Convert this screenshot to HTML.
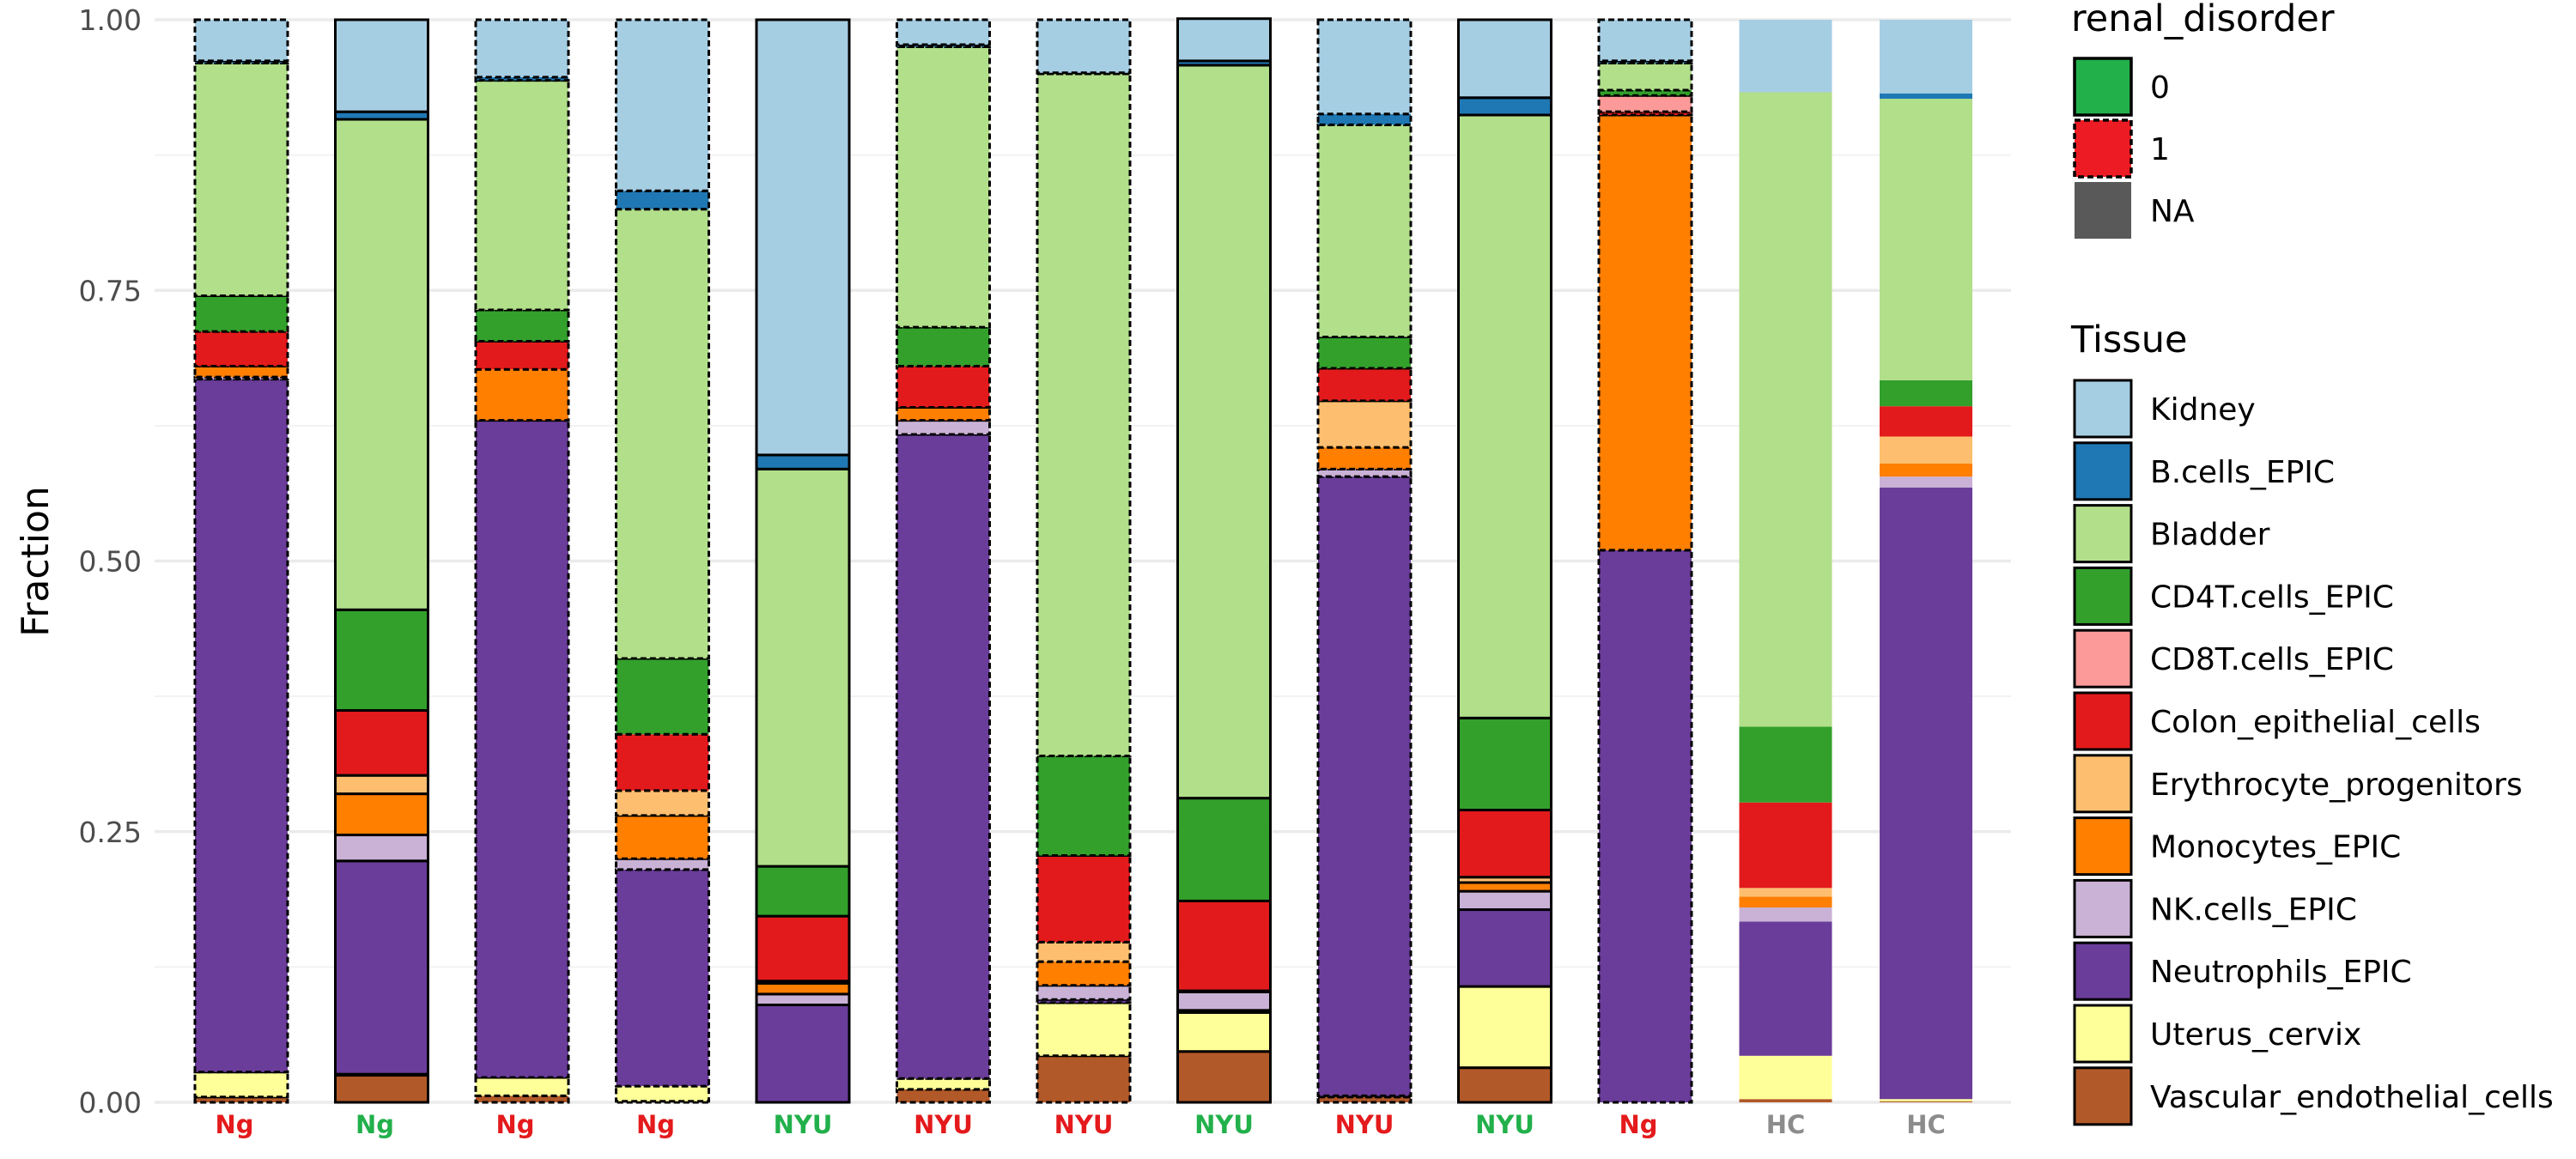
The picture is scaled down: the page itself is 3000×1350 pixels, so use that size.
<!DOCTYPE html>
<html><head><meta charset="utf-8"><style>
html,body{margin:0;padding:0;background:#fff;width:3000px;height:1350px;overflow:hidden}
svg{display:block;font-family:"DejaVu Sans","Liberation Sans",sans-serif}
</style></head><body>
<svg id="chart" width="3000" height="1350" xmlns="http://www.w3.org/2000/svg"></svg>
<script>
const categories=["Ng","Ng","Ng","Ng","NYU","NYU","NYU","NYU","NYU","NYU","Ng","HC","HC"];
const renal=["1","0","1","1","0","1","1","0","1","0","1","NA","NA"];
const tissues=["Vascular_endothelial_cells","Uterus_cervix","Neutrophils_EPIC","NK.cells_EPIC","Monocytes_EPIC","Erythrocyte_progenitors","Colon_epithelial_cells","CD8T.cells_EPIC","CD4T.cells_EPIC","Bladder","B.cells_EPIC","Kidney"];
const tissueColors=["#b15928","#ffff99","#6a3d9a","#cab2d6","#ff7f00","#fdbf6f","#e31a1c","#fb9a99","#33a02c","#b2df8a","#1f78b4","#a6cee3"];
// each bar: fractions bottom-to-top in tissues order
const bar1=[.005,.023,.64,.002,.01,0,.032,0,.033,.215,.002,.038];
const bar2=[.025,.001,.197,.024,.038,.017,.06,0,.093,.453,.007,.085];
const bar3=[.006,.017,.607,0,.047,0,.026,0,.029,.212,.003,.053];
const bar4=[.001,.014,.2,.01,.04,.023,.052,0,.07,.415,.017,.158];
const bar5=[0,0,.09,.01,.01,.002,.06,0,.046,.367,.013,.402];
const bar6=[.012,.01,.595,.013,.012,0,.038,0,.036,.259,.002,.023];
const bar7=[.043,.049,.003,.013,.022,.018,.08,0,.092,.63,.001,.049];
const bar8=[.047,.036,.002,.017,.001,0,.083,0,.095,.677,.004,.039];
const bar9=[.005,.001,.572,.007,.02,.043,.03,0,.029,.196,.01,.087];
const bar10=[.032,.075,.071,.017,.008,.005,.062,0,.085,.557,.016,.072];
const bar11=[0,0,.51,0,.402,0,.003,.015,.005,.025,.002,.038];
const bar12=[.003,.04,.124,.013,.01,.008,.079,0,.07,.586,0,.067];
const bar13=[.001,.002,.565,.01,.012,.025,.028,0,.024,.26,.005,.068];
const bars=[bar1,bar2,bar3,bar4,bar5,bar6,bar7,bar8,bar9,bar10,bar11,bar12,bar13];
const yTicks=[0,0.25,0.5,0.75,1];
const yTickLabels=["0.00","0.25","0.50","0.75","1.00"];

const NS="http://www.w3.org/2000/svg";
const svg=document.getElementById("chart");
function mk(t,a,p){const e=document.createElementNS(NS,t);for(const k in a)e.setAttribute(k,a[k]);(p||svg).appendChild(e);return e;}
const Y0=1284,Y1=23,X0=180,X1=2342,first=281,step=163.5,bw=108;
const y=v=>Y0-(Y0-Y1)*v;
const x=i=>first+i*step;
const labColor={"Ng1":"#e41a1c","Ng0":"#22b04b","NYU1":"#e41a1c","NYU0":"#22b04b"};

// gridlines
const grid=mk("g",{});
[0.125,0.375,0.625,0.875].forEach(v=>mk("line",{x1:X0,x2:X1,y1:y(v),y2:y(v),stroke:"#f2f2f2","stroke-width":2},grid));
yTicks.forEach((v,i)=>{
 mk("line",{x1:X0,x2:X1,y1:y(v),y2:y(v),stroke:"#ebebeb","stroke-width":3.5},grid);
 const t=mk("text",{x:165,y:y(v)+12,"text-anchor":"end","font-size":33,fill:"#4d4d4d"});t.textContent=yTickLabels[i];
 
});
const yt=mk("text",{transform:"translate(56,654) rotate(-90)","text-anchor":"middle","font-size":44,fill:"#000"});yt.textContent="Fraction";


bars.forEach((vals,i)=>{
 const g=mk("g",{});
 let cum=0;
 vals.forEach((v,k)=>{
  if(v<=0){return;}
  const top=y(cum+v),bot=y(cum);cum+=v;
  const a={x:x(i)-bw/2,y:top,width:bw,height:bot-top,fill:tissueColors[k]};
  if(renal[i]!=="NA"){a.stroke="#000";a["stroke-width"]=3;if(renal[i]==="1")a["stroke-dasharray"]="7 4";}
  const r=mk("rect",a,g);
 });
 const t=mk("text",{x:x(i)-(categories[i]==="Ng"?8:0),y:1320,"text-anchor":"middle","font-size":29,"font-weight":"bold",fill:labColor[categories[i]+renal[i]]||"#8c8c8c"});
 t.textContent=categories[i];
});

// legends
const lg=mk("g",{});
let tt=mk("text",{x:2412,y:36,"font-size":43,fill:"#000"},lg);tt.textContent="renal_disorder";
const rk=[["0","#22b04b",""],["1","#ed1c24","7 4"],["NA","#595959",null]];
rk.forEach((r,j)=>{
 const yy=65+j*72;
 const a={x:2416,y:yy+3,width:66,height:66,fill:r[1]};
 if(r[2]!==null){a.stroke="#000";a["stroke-width"]=3.5;if(r[2])a["stroke-dasharray"]=r[2];}
 const e=mk("rect",a,lg);
 const t=mk("text",{x:2482+22,y:yy+49,"font-size":36,fill:"#000"},lg);t.textContent=r[0];
});
const tg=mk("g",{});
tt=mk("text",{x:2412,y:410,"font-size":43,fill:"#000"},tg);tt.textContent="Tissue";
for(let j=0;j<12;j++){
 const k=11-j,yy=440+j*72.8;
 const e=mk("rect",{x:2416,y:yy+3,width:66,height:66,fill:tissueColors[k],stroke:"#000","stroke-width":3},tg);
 
 const t=mk("text",{x:2504,y:yy+49,"font-size":36,fill:"#000"},tg);t.textContent=tissues[k];
}
</script>
</body></html>
